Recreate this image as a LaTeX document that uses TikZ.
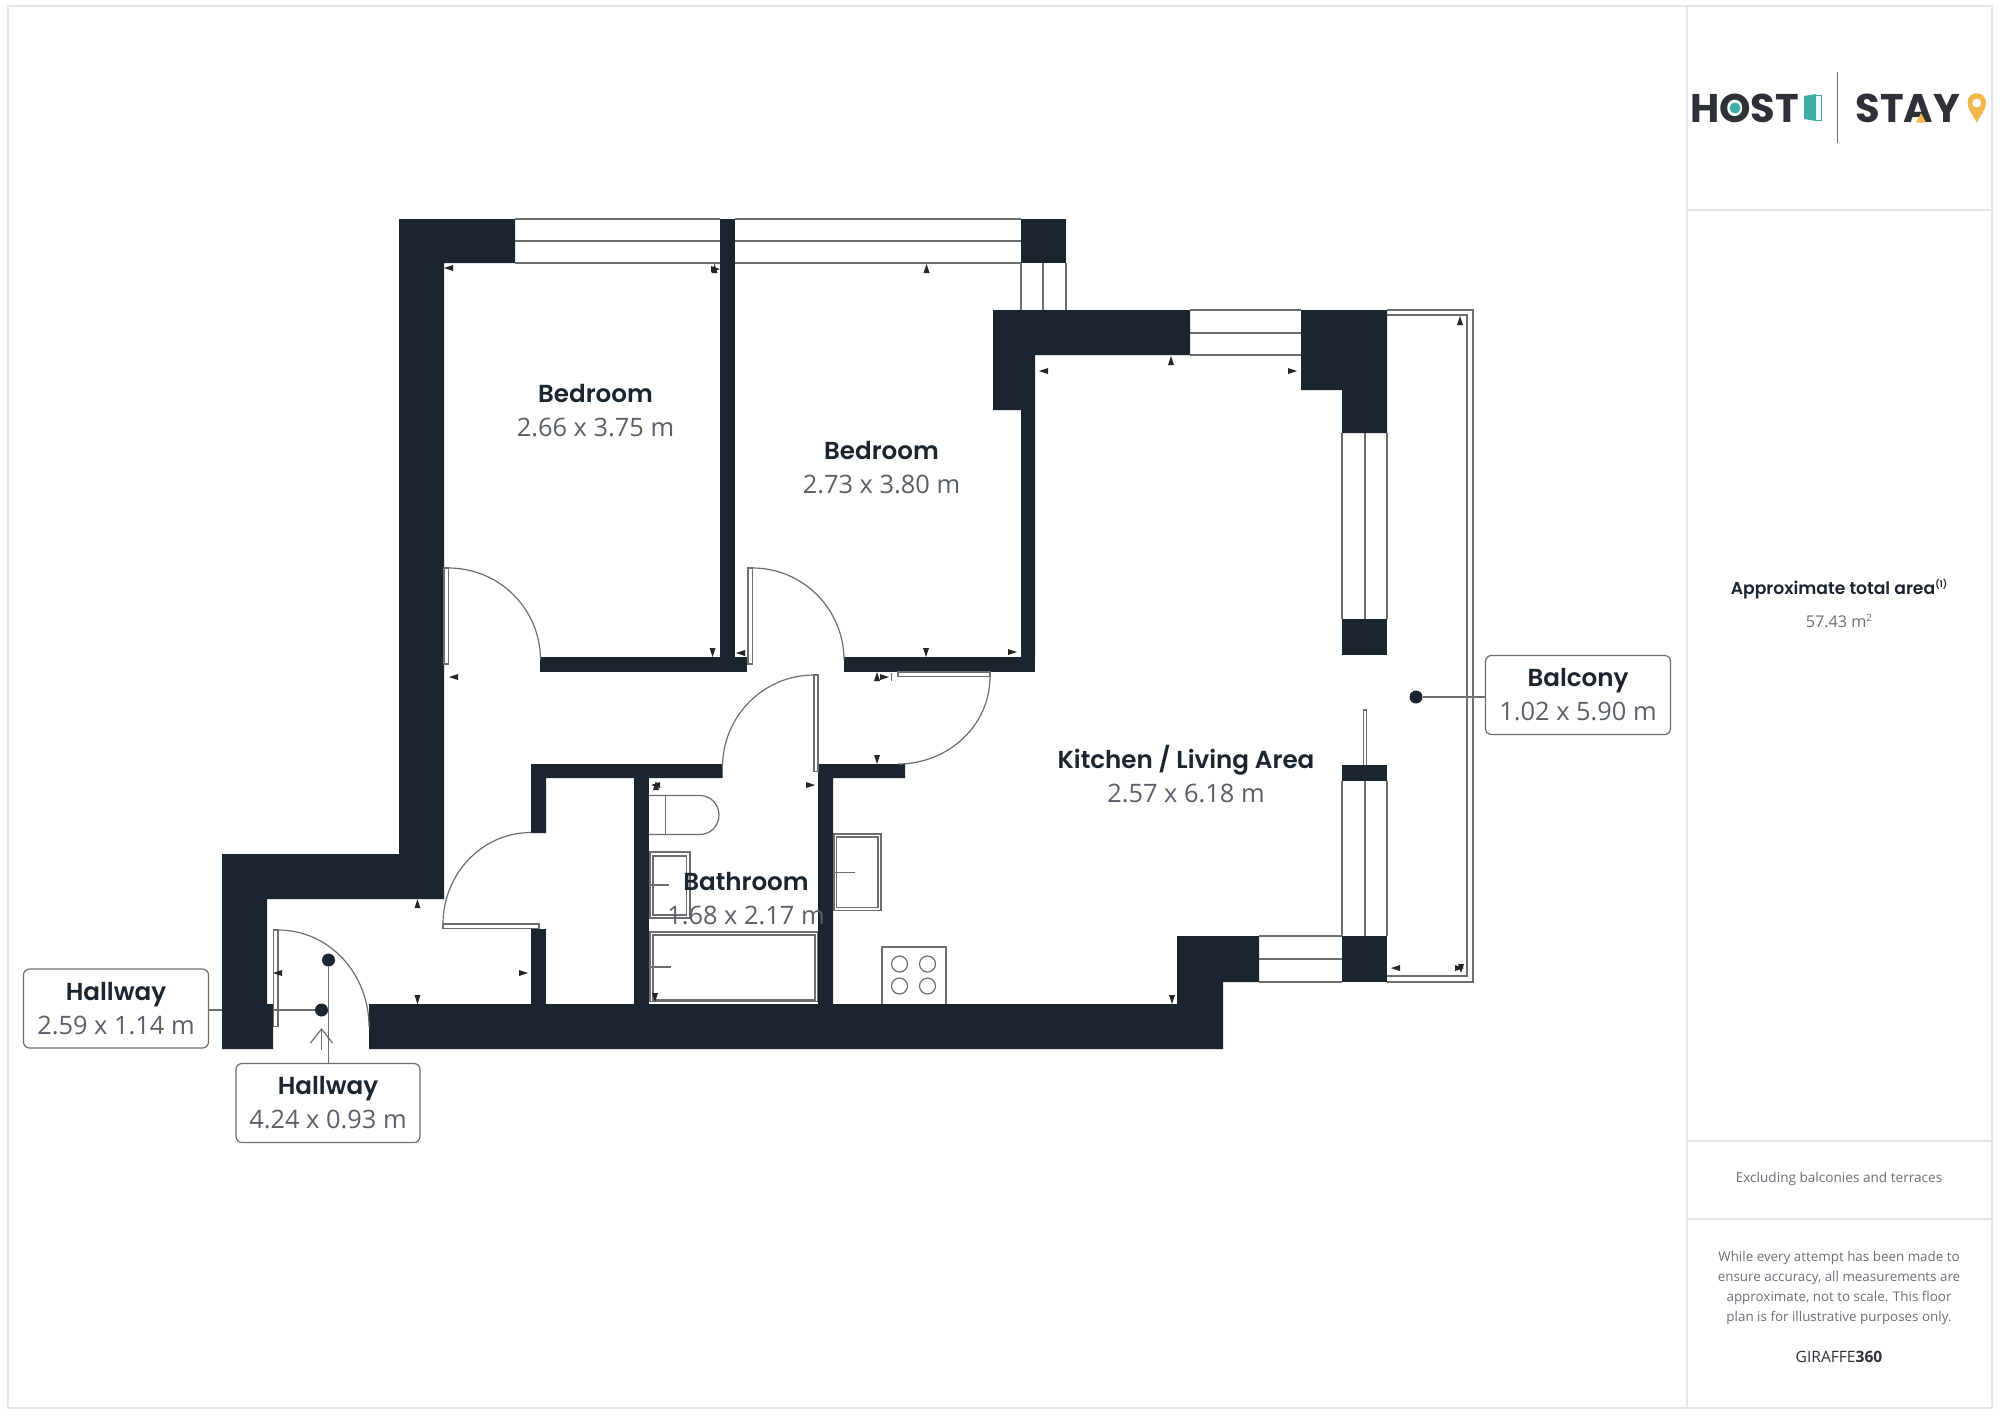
\documentclass[tikz,border=0pt]{standalone}
\usepackage{fontspec}
\setmainfont{Open Sans}
\newfontfamily\headfont{Poppins}[UprightFont=* SemiBold,BoldFont=* Bold]
\usetikzlibrary{arrows.meta}
\definecolor{wallink}{HTML}{1B2530}
\definecolor{fixtureink}{HTML}{6E6E6E}
\definecolor{greytext}{HTML}{5A6068}
\definecolor{paneltext}{HTML}{6B7078}
\definecolor{panelline}{HTML}{E6E6E6}
\definecolor{doorteal}{HTML}{3FAFA6}
\definecolor{pinorange}{HTML}{F2B84B}
\definecolor{logoink}{HTML}{2E3138}
\newcommand{\roomtext}[2]{{\headfont\fontsize{12.3}{17}\selectfont\color{wallink}#1}\\{\color{greytext}#2}}
\begin{document}
\begin{tikzpicture}[x=0.5pt, y=-0.5pt,
					wall/.style = {fill=wallink},
					fixture/.style = {draw=fixtureink, line width=0.6pt},
					dotmark/.style = {circle, fill=wallink, inner sep=0pt, minimum size=6.5pt},
					lead/.style = {draw=fixtureink, line width=0.6pt},
					roomname/.style = {align=center, inner sep=0pt, font=\fontsize{12.7}{17}\selectfont},
					labelbox/.style = {draw=fixtureink, fill=white, rounded corners=3pt, line width=0.6pt, align=center, inner sep=0pt, minimum height=39.5pt, font=\fontsize{12.7}{17}\selectfont},
					sidetext/.style = {align=center, inner sep=0pt, text=paneltext},
					upmark/.pic = {\fill[black!85] (-3,0) -- (3,0) -- (0,-9) -- cycle;},
					downmark/.pic = {\fill[black!85] (-3,0) -- (3,0) -- (0,9) -- cycle;},
					leftmark/.pic = {\fill[black!85] (0,-3) -- (0,3) -- (-9,0) -- cycle;},
					rightmark/.pic = {\fill[black!85] (0,-3) -- (0,3) -- (9,0) -- cycle;}
				]
				\useasboundingbox (0,0) rectangle (2000,1415);
				\fill[white] (0,0) rectangle (2000,1415);
				% page frame and side panel
				\draw[panelline, line width=1pt] (8,6) rectangle (1992,1408);
				\draw[panelline, line width=1pt] (1687,6) -- (1687,1408);
				\draw[panelline, line width=1pt] (1687,210) -- (1992,210);
				\draw[panelline, line width=1pt] (1687,1141) -- (1992,1141);
				\draw[panelline, line width=1pt] (1687,1219) -- (1992,1219);
				% labels and leads go under the walls
				\node[labelbox, minimum width=92.5pt] (hallwaywide) at (116,1008.5) {\roomtext{Hallway}{2.59 x 1.14 m}};
				\node[labelbox, minimum width=92pt] (hallwaylong) at (328,1103) {\roomtext{Hallway}{4.24 x 0.93 m}};
				\node[labelbox, minimum width=92.5pt] (balconylabel) at (1578,695) {\roomtext{Balcony}{1.02 x 5.90 m}};
				\node[dotmark] (hallwaywidedot) at (321.5,1010) {};
				\node[dotmark] (hallwaylongdot) at (328.5,960) {};
				\node[dotmark] (balconydot) at (1416,697) {};
				\draw[lead] (hallwaywidedot) -- (hallwaywidedot -| hallwaywide.east);
				\draw[lead] (hallwaylongdot) -- (hallwaylongdot |- hallwaylong.north);
				\draw[lead] (balconydot) -- (balconydot -| balconylabel.west);
				% walls
				\fill[wall] (399,219) -- (515,219) -- (515,263) -- (444,263) -- (444,899) -- (267,899) -- (267,1004) -- (273,1004) -- (273,1049) -- (222,1049) -- (222,854) -- (399,854) -- cycle;
				\fill[wall] (369,1004) -- (1177,1004) -- (1177,936) -- (1259,936) -- (1259,982) -- (1223,982) -- (1223,1049) -- (369,1049) -- cycle;
				\fill[wall] (720,219) rectangle (735,657);
				\fill[wall] (540,657) rectangle (747,672);
				\fill[wall] (844,657) rectangle (1035,672);
				\fill[wall] (1021,219) rectangle (1066,263);
				\fill[wall] (993,310) -- (1190,310) -- (1190,355) -- (1035,355) -- (1035,657) -- (1021,657) -- (1021,410) -- (993,410) -- cycle;
				\fill[wall] (1301,310) -- (1387,310) -- (1387,433) -- (1342,433) -- (1342,390) -- (1301,390) -- cycle;
				\fill[wall] (1342,619) rectangle (1387,655);
				\fill[wall] (1342,765) rectangle (1387,781);
				\fill[wall] (1342,936) rectangle (1387,982);
				\fill[wall] (531,764) -- (722.5,764) -- (722.5,778) -- (546,778) -- (546,833) -- (531,833) -- cycle;
				\fill[wall] (531,929) rectangle (546,1004);
				\fill[wall] (634,778) rectangle (649,1004);
				\fill[wall] (818,764) -- (905,764) -- (905,778) -- (833,778) -- (833,1004) -- (818,1004) -- cycle;
				% windows
				\draw[fixture] (515,219) -- (720,219) (515,241) -- (720,241) (515,263) -- (720,263);
				\draw[fixture] (735,219) -- (1021,219) (735,241) -- (1021,241) (735,263) -- (1021,263);
				\draw[fixture] (1021,263) -- (1021,310) (1043,263) -- (1043,310) (1066,263) -- (1066,310);
				\draw[fixture] (1190,310) -- (1301,310) (1190,333) -- (1301,333) (1190,355) -- (1301,355);
				\draw[fixture] (1342,433) -- (1342,619) (1365,433) -- (1365,619) (1387,433) -- (1387,619);
				\draw[fixture] (1342,781) -- (1342,936) (1365,781) -- (1365,936) (1387,781) -- (1387,936);
				\draw[fixture] (1259,936) -- (1342,936) (1259,959) -- (1342,959) (1259,982) -- (1342,982);
				\draw[fixture] (1363.5,765) -- (1363.5,710) -- (1366.5,710) -- (1366.5,765);
				% balcony
				\draw[fixture] (1387,310) -- (1473,310) -- (1473,982) -- (1387,982);
				\draw[fixture] (1387,315) -- (1467,315) -- (1467,976) -- (1387,976);
				% doors
				\draw[fixture] (444,568) rectangle (448.5,664);
				\draw[fixture] (448.5,568) to[out=0, in=90] (540.5,660);
				\draw[fixture] (748,568) rectangle (752.5,664);
				\draw[fixture] (752.5,568) to[out=0, in=90] (844,660);
				\draw[fixture] (814,675) rectangle (818,771.5);
				\draw[fixture] (814,675) to[out=180, in=90] (722.5,767);
				\draw[fixture] (898,672) rectangle (990,676.5);
				\draw[fixture] (990,676.5) to[out=-90, in=0] (898,764);
				\draw[fixture] (443,924) rectangle (539,928.5);
				\draw[fixture] (443,924) to[out=90, in=180] (531,832.5);
				\draw[fixture] (273.5,930) rectangle (278,1026.5);
				\draw[fixture] (278,930) to[out=0, in=90] (369,1026.5);
				\draw[fixture, -{Straight Barb[length=7pt, width=11pt]}] (321.5,1050) -- (321.5,1028);
				% bathroom and kitchen fittings
				\draw[fixture] (649,795.5) -- (700,795.5) to[out=0, in=90] (719,815) to[out=-90, in=0] (700,834.5) -- (649,834.5);
				\draw[fixture] (665.5,795.5) -- (665.5,834.5);
				\draw[fixture] (650,852) rectangle (690,918);
				\draw[fixture] (653,856) rectangle (686.5,915);
				\draw[fixture] (649,885) -- (669,885);
				\draw[fixture] (650,932) rectangle (817.5,1001.5);
				\draw[fixture] (653,935) rectangle (815,1000);
				\draw[fixture] (649,967) -- (670.5,967);
				\draw[fixture] (834,834) rectangle (881,910.5);
				\draw[fixture] (836.5,837) rectangle (878,907.5);
				\draw[fixture] (833,872.5) -- (855,872.5);
				\draw[fixture] (882,1004) -- (882,947) -- (946,947) -- (946,1004);
				\draw[fixture] (899.5,964) circle[radius=8];
				\draw[fixture] (927.5,964) circle[radius=8];
				\draw[fixture] (899.5,986) circle[radius=8];
				\draw[fixture] (927.5,986) circle[radius=8];
				% wall markers
				\path (417.5,908) pic {upmark} (926.5,273) pic {upmark} (1171,365) pic {upmark} (1460,325) pic {upmark} (877,681) pic {upmark} (714.5,273) pic {upmark} (656,790) pic {upmark};
				\path (417.5,995) pic {downmark} (712.5,648) pic {downmark} (926,648) pic {downmark} (877,755) pic {downmark} (1172,995) pic {downmark} (655,993) pic {downmark} (1461,964) pic {downmark};
				\path (453,268) pic {leftmark} (458,677) pic {leftmark} (1048,371) pic {leftmark} (745,653) pic {leftmark} (1400,968) pic {leftmark} (282,973) pic {leftmark} (660,785) pic {leftmark};
				\path (711,269) pic {rightmark} (1288,371) pic {rightmark} (1008,652) pic {rightmark} (880,677) pic {rightmark} (806,785) pic {rightmark} (519,973) pic {rightmark} (1455,968) pic {rightmark};
				\draw[fixture] (891.5,673) -- (891.5,681);
				% room labels
				\node[roomname] (bedroomone) at (595.5,410.5) {\roomtext{Bedroom}{2.66 x 3.75 m}};
				\node[roomname] (bedroomtwo) at (881.5,468) {\roomtext{Bedroom}{2.73 x 3.80 m}};
				\node[roomname] (kitchenname) at (1186,774.5) {\roomtext{Kitchen / Living Area}{2.57 x 6.18 m}};
				\node[roomname] (bathroomname) at (746,899) {\roomtext{Bathroom}{1.68 x 2.17 m}};
				% logo
				\node[inner sep=0pt, text=logoink] (hostword) at (1744.5,108) {\headfont\bfseries\fontsize{20}{20}\selectfont HOST};
				\fill[doorteal] (1735,108) circle[radius=5.5];
				\fill[doorteal] (1804,96) -- (1816,94) -- (1816,121) -- (1804,119) -- cycle;
				\draw[doorteal, line width=0.5pt] (1816,95) -- (1821.5,95) -- (1821.5,120) -- (1816,120);
				\draw[fixtureink, line width=0.8pt] (1837.5,72) -- (1837.5,143);
				\node[inner sep=0pt, text=logoink] (stayword) at (1908,108) {\headfont\bfseries\fontsize{20}{20}\selectfont STAY};
				\fill[pinorange] (1921,113) -- (1926,122.5) -- (1916,122.5) -- cycle;
				\fill[pinorange, even odd rule] (1967.5,103) .. controls (1967.5,90) and (1986,90) .. (1986,103) .. controls (1986,110) and (1980,115) .. (1976.7,123) .. controls (1973.5,115) and (1967.5,110) .. (1967.5,103) -- cycle (1976.7,103) circle[radius=4.5];
				% side panel texts
				\node[sidetext, text=wallink] (areatitle) at (1839,589) {\headfont\fontsize{8.6}{10}\selectfont Approximate total area\raisebox{3.5pt}{\fontsize{4.5}{5}\selectfont (1)}};
				\node[sidetext] (areavalue) at (1839,621) {\fontsize{8.1}{10}\selectfont 57.43 m\raisebox{3pt}{\fontsize{5}{5}\selectfont 2}};
				\node[sidetext] (excludenote) at (1839,1179) {\fontsize{6.8}{10}\selectfont Excluding balconies and terraces};
				\node[sidetext, font=\fontsize{6.7}{10}\selectfont] (disclaimer) at (1839,1288) {While every attempt has been made to\\ensure accuracy, all measurements are\\approximate, not to scale. This floor\\plan is for illustrative purposes only.};
				\node[sidetext, text=logoink] (giraffemark) at (1839,1357) {\fontsize{7.8}{10}\selectfont GIRAFFE\textbf{360}};
			\end{tikzpicture}
\end{document}
